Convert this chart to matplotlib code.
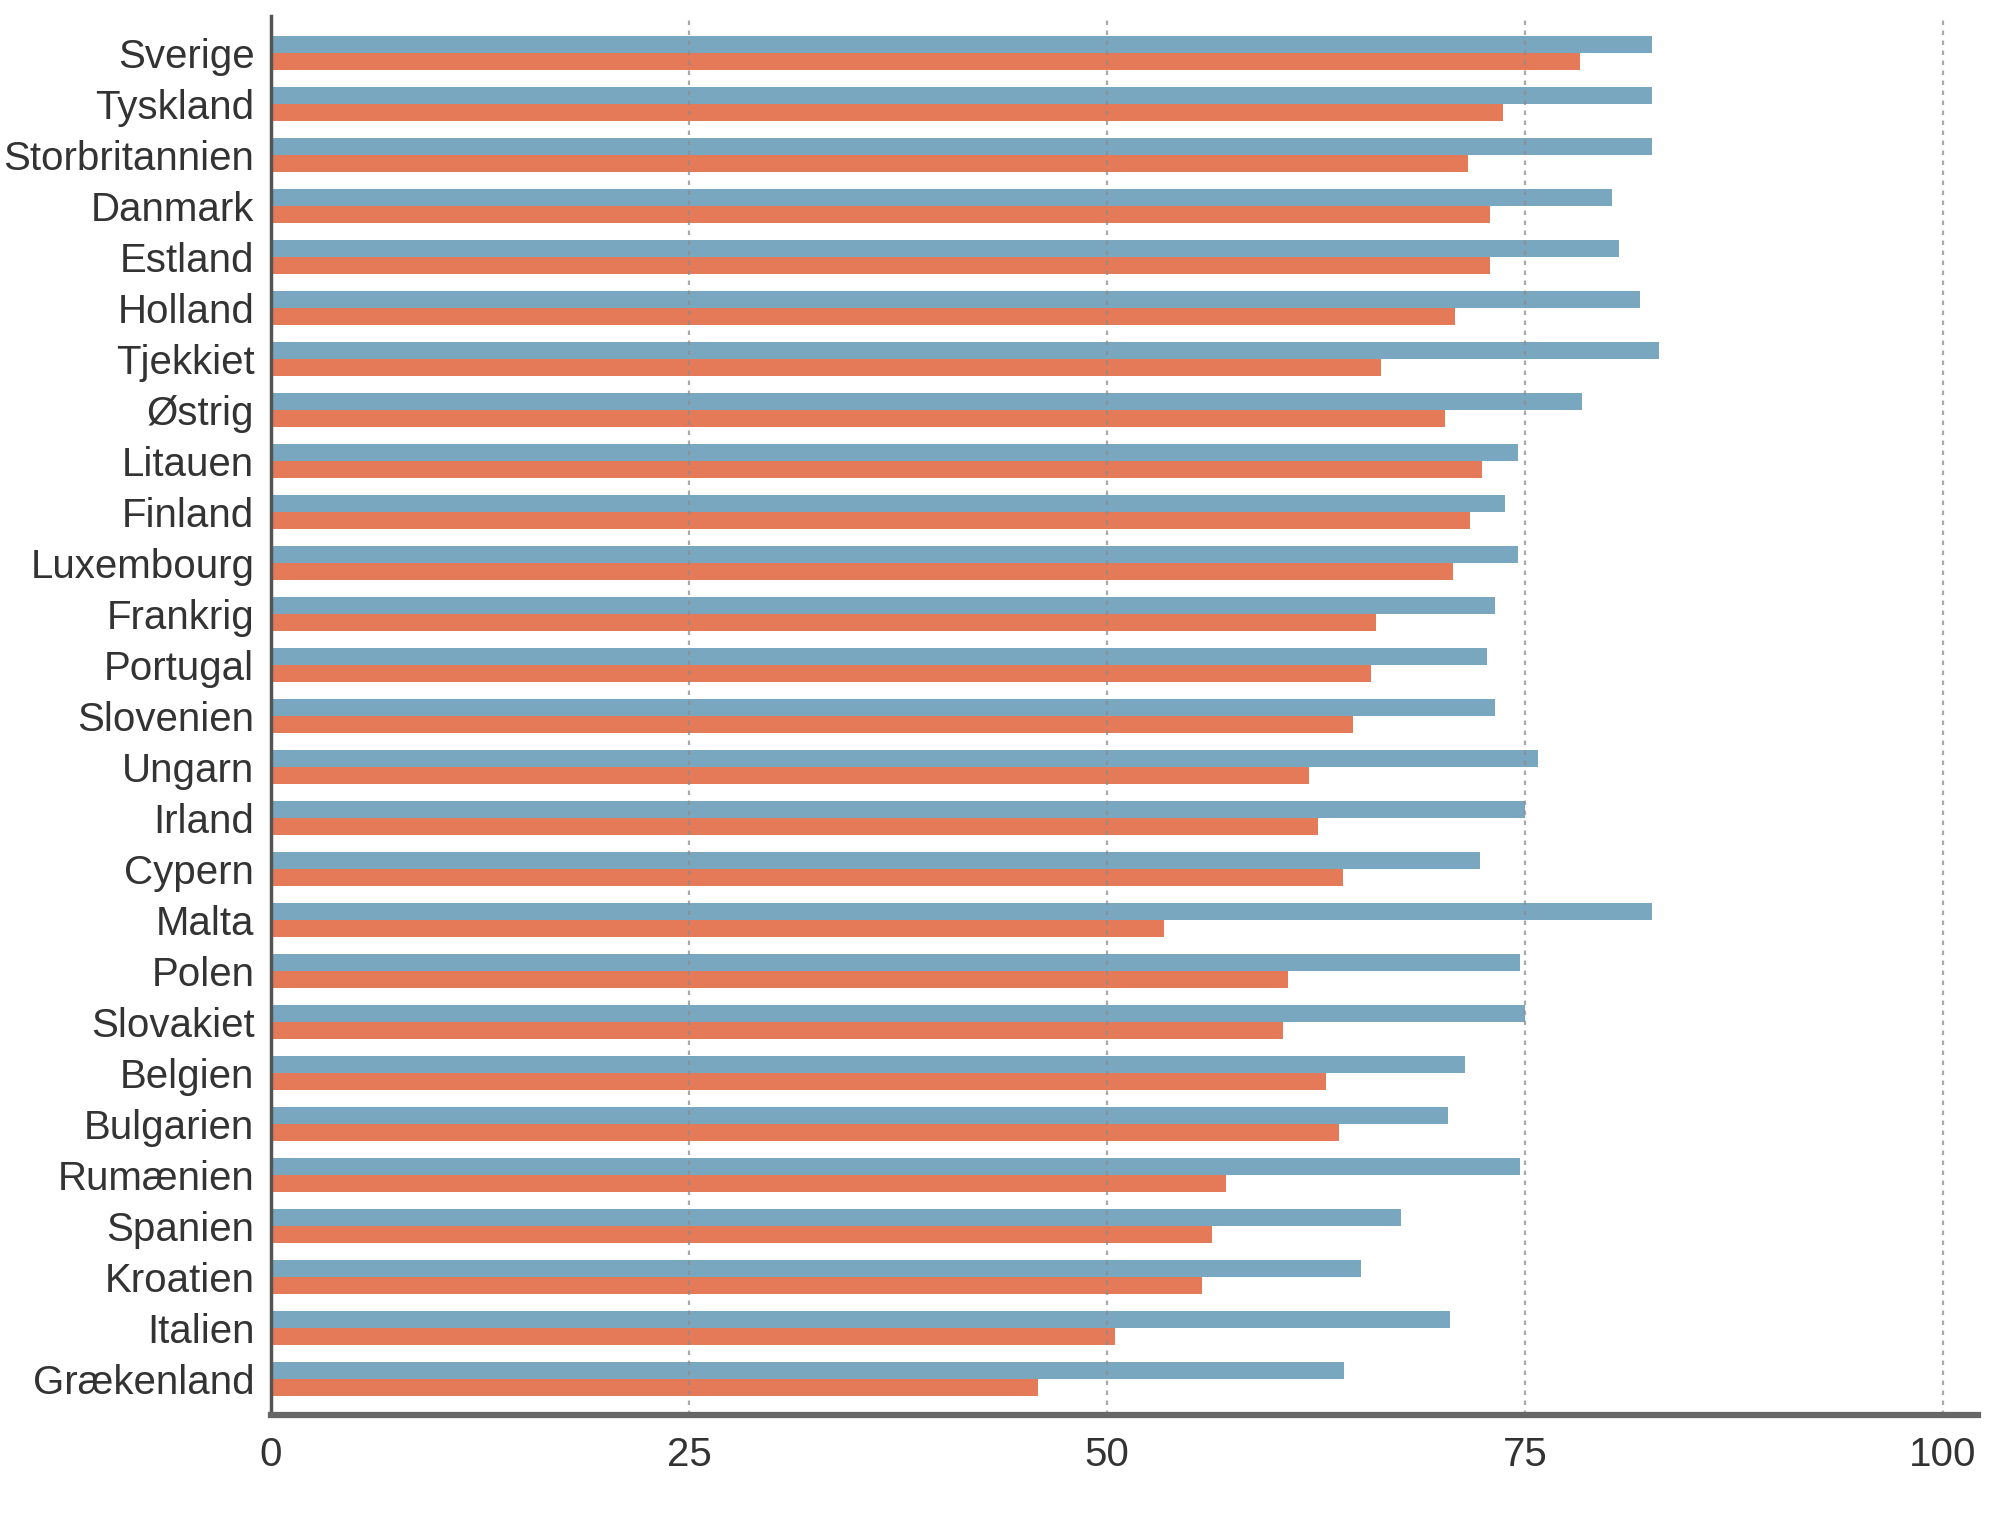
import matplotlib
matplotlib.use("Agg")
import matplotlib.pyplot as plt
import numpy as np

countries = ["Sverige", "Tyskland", "Storbritannien", "Danmark", "Estland", "Holland",
             "Tjekkiet", "Østrig", "Litauen", "Finland", "Luxembourg", "Frankrig",
             "Portugal", "Slovenien", "Ungarn", "Irland", "Cypern", "Malta", "Polen",
             "Slovakiet", "Belgien", "Bulgarien", "Rumænien", "Spanien", "Kroatien",
             "Italien", "Grækenland"]
blue_values = [82.6, 82.6, 82.6, 80.2, 80.6, 81.9, 83.0, 78.4, 74.6, 73.8, 74.6, 73.2,
               72.7, 73.2, 75.8, 75.0, 72.3, 82.6, 74.7, 75.0, 71.4, 70.4, 74.7, 67.6,
               65.2, 70.5, 64.2]
orange_values = [78.3, 73.7, 71.6, 72.9, 72.9, 70.8, 66.4, 70.2, 72.4, 71.7, 70.7, 66.1,
                 65.8, 64.7, 62.1, 62.6, 64.1, 53.4, 60.8, 60.5, 63.1, 63.9, 57.1, 56.3,
                 55.7, 50.5, 45.9]
x_ticks = [0, 25, 50, 75, 100]
x_tick_labels = ["0", "25", "50", "75", "100"]

BLUE = "#7aa7c0"
ORANGE = "#e57a58"
TEXT = "#333333"

plt.rcParams['font.family'] = ['Liberation Sans', 'DejaVu Sans']

fig = plt.figure(figsize=(20, 15.2), dpi=100)
left_px, right_px = 271, 1978
ax = fig.add_axes([left_px/2000, 1 - 1415/1520, (right_px-left_px)/2000, (1415-16)/1520])

y = np.arange(len(countries))
h = 0.34
ax.barh(y - h/2, blue_values, height=h, color=BLUE, zorder=2, linewidth=0)
ax.barh(y + h/2, orange_values, height=h, color=ORANGE, zorder=2, linewidth=0)

ax.set_xlim(0, (right_px - left_px) / 16.72)
ax.set_ylim(26.706, -0.725)

for t in x_ticks[1:]:
    ax.axvline(t, color="#8c8c8c", linewidth=1.6, linestyle=(0, (2, 2.5)), zorder=3, alpha=0.75)

ax.set_yticks(y)
ax.set_yticklabels(countries, fontsize=29, color=TEXT)
ax.set_xticks(x_ticks)
ax.set_xticklabels(x_tick_labels, fontsize=29, color=TEXT)
ax.tick_params(axis='y', length=0, pad=12)
ax.tick_params(axis='x', length=0, pad=15)

for s in ["top", "right"]:
    ax.spines[s].set_visible(False)
ax.spines["left"].set_color("#555555")
ax.spines["left"].set_linewidth(2.5)
ax.spines["bottom"].set_color("#666666")
ax.spines["bottom"].set_linewidth(4.5)
ax.spines["left"].set_zorder(4)
ax.spines["bottom"].set_zorder(4)

fig.savefig("out.png", dpi=100, facecolor="white")
